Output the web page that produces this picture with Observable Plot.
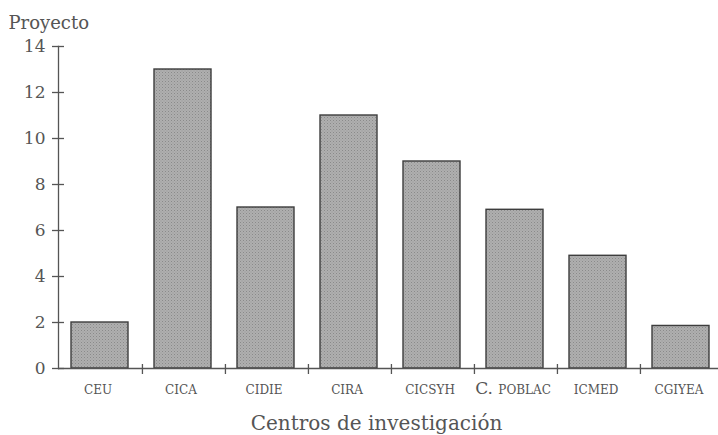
<!DOCTYPE html>
<html>
<head>
<meta charset="utf-8">
<script src="https://cdn.jsdelivr.net/npm/d3@7"></script>
<script src="https://cdn.jsdelivr.net/npm/@observablehq/plot@0.6"></script>
<style>
  html, body { margin: 0; padding: 0; background: #fff; overflow: hidden; }
  #chart svg { display: block; }
</style>
</head>
<body>
<div id="chart"></div>
<script>
const centros = ["CEU", "CICA", "CIDIE", "CIRA", "CICSYH", "C. POBLAC", "ICMED", "CGIYEA"];
const proyectos = [2, 13, 7, 11, 9, 6.9, 4.9, 1.85];
const yTicks = [0, 2, 4, 6, 8, 10, 12, 14];
const yLabel = "Proyecto";
const xLabel = "Centros de investigación";

const data = centros.map((c, i) => ({centro: c, proyectos: proyectos[i]}));

const W = 718, H = 435;
const xRange = [58, 723];
const step = (xRange[1] - xRange[0]) / centros.length;
const ink = "#555";
const font = "DejaVu Serif, serif";

const chart = Plot.plot({
  width: W,
  height: H,
  marginTop: 46,
  marginBottom: 67,
  marginLeft: 58,
  marginRight: 0,
  style: {fontFamily: font, color: ink, background: "#fff", overflow: "visible"},
  x: {domain: centros, range: xRange, padding: 0, label: null},
  y: {domain: [0, 14], label: null},
  marks: [
    Plot.barY(data, {
      x: "centro", y: "proyectos",
      insetLeft: 12, insetRight: 14,
      fill: "url(#halftone)", stroke: "#3d3d3d", strokeWidth: 1.4
    }),
    Plot.ruleY([0], {stroke: ink, strokeWidth: 1.3}),
    Plot.frame({anchor: "left", stroke: ink, strokeWidth: 1.3}),
    Plot.axisY({
      ticks: yTicks, tickSize: 12, dx: 6, tickPadding: 7,
      fontSize: 17, stroke: ink, strokeWidth: 1.3, fill: ink
    }),
    Plot.axisX({
      ticks: centros.slice(1), tickFormat: () => "", tickSize: 10,
      dx: -step / 2, dy: -4, stroke: ink, strokeWidth: 1.3
    }),
    Plot.axisX({
      tickSize: 0, tickPadding: 17, fontSize: 12, fill: ink, dx: -3
    }),
    Plot.text([xLabel], {
      frameAnchor: "bottom", lineAnchor: "bottom", dy: 61, dx: -12,
      fontSize: 20, fill: ink
    }),
    Plot.text([yLabel], {
      frameAnchor: "top-left", lineAnchor: "bottom", textAnchor: "start",
      dx: -50, dy: -18, fontSize: 18, fill: ink
    })
  ]
});

// halftone pattern for bars
const defs = d3.select(chart).insert("defs", ":first-child");
const pat = defs.append("pattern")
  .attr("id", "halftone").attr("patternUnits", "userSpaceOnUse")
  .attr("width", 3).attr("height", 3);
pat.append("rect").attr("width", 3).attr("height", 3).attr("fill", "#afafaf");
pat.append("rect").attr("x", 0).attr("y", 0).attr("width", 1).attr("height", 1).attr("fill", "#8a8a8a");
pat.append("rect").attr("x", 1.5).attr("y", 1.5).attr("width", 1).attr("height", 1).attr("fill", "#969696");

// remove empty tick texts, enlarge "C." in "C. POBLAC"
d3.select(chart).selectAll("text").each(function() {
  if (this.textContent === "") d3.select(this).remove();
  else if (this.textContent === "C. POBLAC") {
    const t = d3.select(this);
    t.text("");
    t.append("tspan").attr("font-size", 17).text("C. ");
    t.append("tspan").text("POBLAC");
  }
});

document.getElementById("chart").appendChild(chart);
</script>
</body>
</html>
